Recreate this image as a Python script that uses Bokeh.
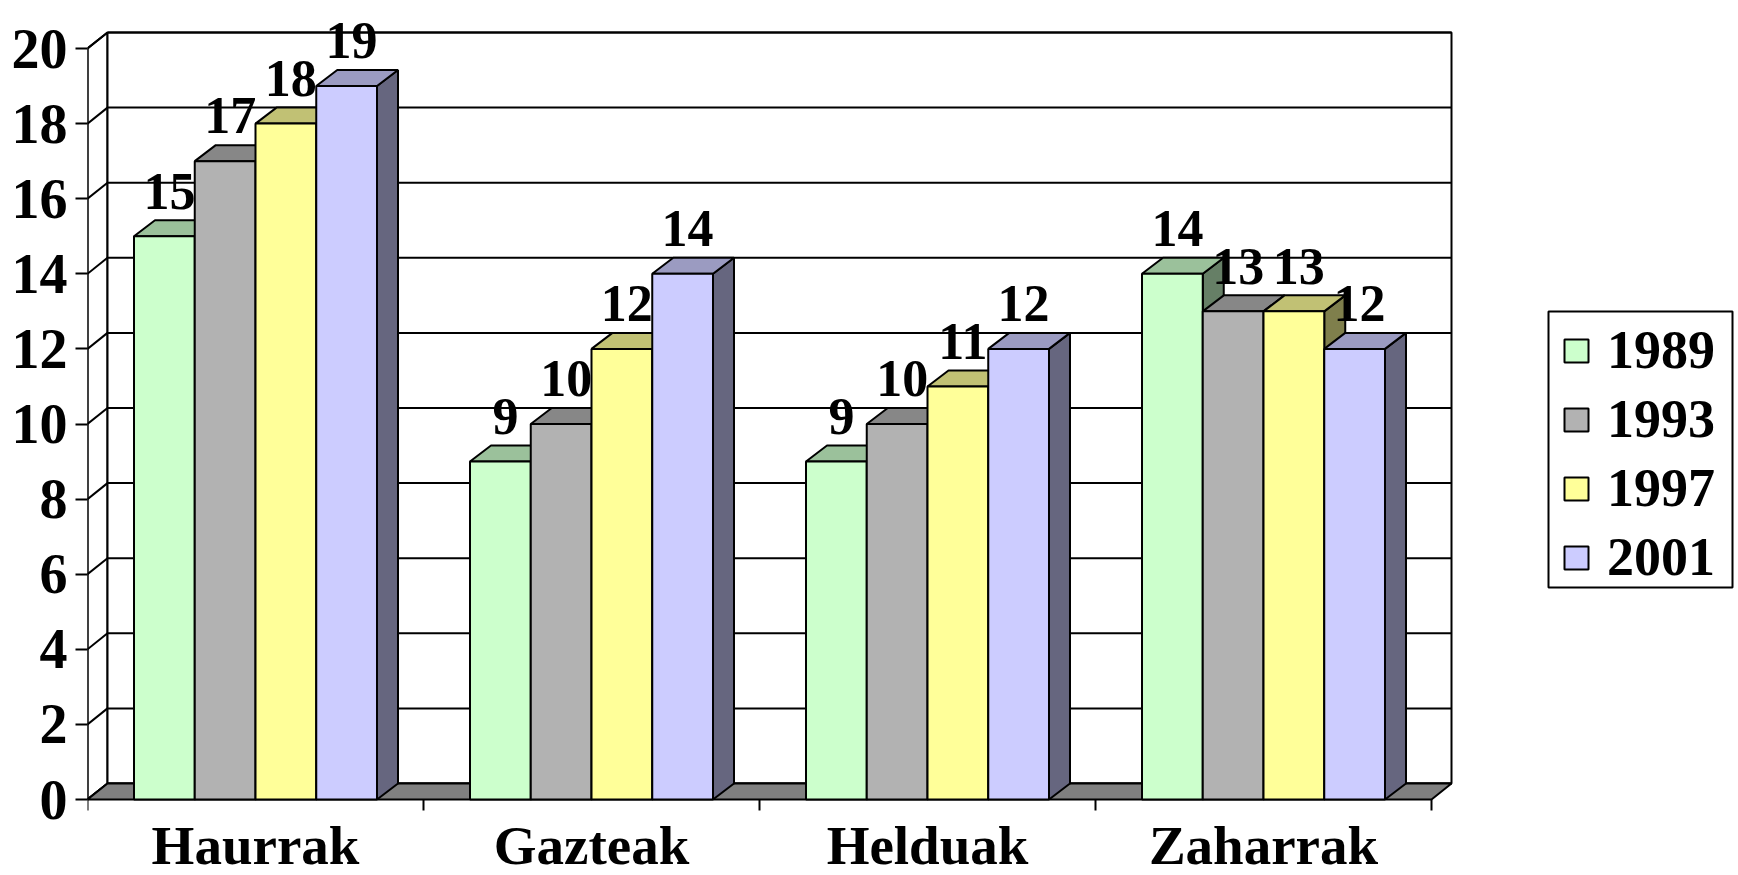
from bokeh.plotting import figure
from bokeh.models import Range1d, FixedTicker, Legend, LegendItem, ColumnDataSource
from bokeh.core.properties import value
from bokeh.embed import file_html
from bokeh.resources import INLINE

# ---------------- data ----------------
categories = ["Haurrak", "Gazteak", "Helduak", "Zaharrak"]
years = ["1989", "1993", "1997", "2001"]
v1989 = [15, 9, 9, 14]
v1993 = [17, 10, 10, 13]
v1997 = [18, 12, 11, 13]
v2001 = [19, 14, 12, 12]
y_ticks = [0, 2, 4, 6, 8, 10, 12, 14, 16, 18, 20]

series = [v1989, v1993, v1997, v2001]
front_colors = ["#CCFFCC", "#B2B2B2", "#FFFF99", "#CCCCFF"]

# ---------------- geometry / style ----------------
W, H = 1738, 875
LEFT = 87                 # frame left border (px)
FLOOR_PX = 799            # floor (value 0) from top of figure (px)
CAT_PX = 336.0            # px per category
UNIT_PX = 37.55           # px per value unit
FW = W - LEFT
WDX, WDY = 20 / CAT_PX, 16 / UNIT_PX     # wall depth
BDX, BDY = 21 / CAT_PX, 16 / UNIT_PX     # bar depth
GROUP_W = 0.7232
BAR_W = GROUP_W / len(series)
G0 = (1 - GROUP_W) / 2
YMAX = y_ticks[-1]
NCAT = len(categories)
FONT = value("Liberation Serif")
BASE_FIX = 0.33           # svg alphabetic-baseline correction (fraction of font size)
VAL_FS, CAT_FS = 52, 55


def shade(hexc, f):
    r, g, b = (int(hexc[i:i + 2], 16) for i in (1, 3, 5))
    return "#%02x%02x%02x" % (int(r * f), int(g * f), int(b * f))


def sx(px):   # screen x (px) -> data x
    return (px - LEFT) / CAT_PX


def sy(py):   # screen y (px from top) -> data y
    return (FLOOR_PX - py) / UNIT_PX


p = figure(width=W, height=H, output_backend="svg", toolbar_location=None,
           x_range=Range1d(0, FW / CAT_PX),
           y_range=Range1d(-(H - FLOOR_PX) / UNIT_PX, FLOOR_PX / UNIT_PX),
           x_axis_location=None, y_axis_location="left",
           min_border_left=LEFT, min_border_right=0, min_border_top=0, min_border_bottom=0)
p.grid.visible = False
p.outline_line_color = None
p.background_fill_color = "white"
p.border_fill_color = "white"

ax = p.yaxis[0]
ax.ticker = FixedTicker(ticks=y_ticks, minor_ticks=[])
ax.axis_line_color = None
ax.major_tick_out = 12
ax.major_tick_in = 0
ax.minor_tick_out = 0
ax.minor_tick_in = 0
ax.major_tick_line_width = 2
ax.major_tick_line_color = "black"
ax.major_label_standoff = 8
ax.major_label_text_font = "Liberation Serif"
ax.major_label_text_font_style = "bold"
ax.major_label_text_font_size = "56px"
ax.major_label_text_color = "black"

LW = 2
# side wall
p.patch([0, 0, WDX, WDX], [0, YMAX, YMAX + WDY, WDY], fill_color="white",
        line_color="black", line_width=LW)
# back wall
p.quad(left=WDX, right=NCAT + WDX, bottom=WDY, top=YMAX + WDY,
       fill_color="white", line_color="black", line_width=LW)
# gridlines
p.segment(x0=[WDX] * len(y_ticks), x1=[NCAT + WDX] * len(y_ticks),
          y0=[t + WDY for t in y_ticks], y1=[t + WDY for t in y_ticks],
          line_color="black", line_width=LW)
p.segment(x0=[0] * len(y_ticks), x1=[WDX] * len(y_ticks),
          y0=y_ticks, y1=[t + WDY for t in y_ticks],
          line_color="black", line_width=LW)
# floor
p.patch([0, NCAT, NCAT + WDX, WDX], [0, 0, WDY, WDY], fill_color="#808080",
        line_color="black", line_width=LW)
# front axis line
p.segment(x0=[0], x1=[0], y0=[0], y1=[YMAX], line_color="black", line_width=LW)
# category tick marks
TICK = 11 / UNIT_PX
p.segment(x0=list(range(NCAT + 1)), x1=list(range(NCAT + 1)),
          y0=[0] * (NCAT + 1), y1=[-TICK] * (NCAT + 1), line_color="black", line_width=LW)

# bars
front_renderers = []
label_x, label_y, label_t = [], [], []
for s, (vals, col) in enumerate(zip(series, front_colors)):
    lefts = [i + G0 + s * BAR_W for i in range(NCAT)]
    rights = [l + BAR_W for l in lefts]
    side_xs = [[r, r, r + BDX, r + BDX] for r in rights]
    side_ys = [[0, v, v + BDY, BDY] for v in vals]
    p.patches(side_xs, side_ys, fill_color=shade(col, 0.5), line_color="black", line_width=LW)
    top_xs = [[l, r, r + BDX, l + BDX] for l, r in zip(lefts, rights)]
    top_ys = [[v, v, v + BDY, v + BDY] for v in vals]
    p.patches(top_xs, top_ys, fill_color=shade(col, 0.76), line_color="black", line_width=LW)
    src = ColumnDataSource(dict(left=lefts, right=rights, top=vals, bottom=[0] * NCAT))
    r = p.quad(left="left", right="right", top="top", bottom="bottom", source=src,
               fill_color=col, line_color="black", line_width=LW)
    front_renderers.append(r)
    for l, v in zip(lefts, vals):
        label_x.append(l + BAR_W / 2 + 5 / CAT_PX)
        label_y.append(v + BDY + (12 + BASE_FIX * VAL_FS) / UNIT_PX)
        label_t.append(str(v))

p.text(x=label_x, y=label_y, text=label_t, text_font=FONT, text_font_style="bold",
       text_font_size=f"{VAL_FS}px", text_align="center", text_baseline="alphabetic",
       text_color="black")

# category labels (baseline 64 px below the floor edge)
p.text(x=[i + 0.5 for i in range(NCAT)], y=[-(64 - BASE_FIX * CAT_FS) / UNIT_PX] * NCAT,
       text=categories, text_font=FONT, text_font_style="bold",
       text_font_size=f"{CAT_FS}px", text_align="center", text_baseline="alphabetic",
       text_color="black")

# legend frame (box), then the legend itself
p.quad(left=sx(1548), right=sx(1732), top=sy(311), bottom=sy(587),
       fill_color="white", line_color="black", line_width=LW)
legend = Legend(items=[LegendItem(label=y, renderers=[r]) for y, r in zip(years, front_renderers)],
                location=(1474, 287), orientation="vertical",
                border_line_color=None, background_fill_alpha=0.0,
                glyph_width=30, glyph_height=29, label_standoff=16,
                padding=3, spacing=7, margin=0,
                label_text_font="Liberation Serif", label_text_font_style="bold",
                label_text_font_size="54px", label_text_color="black")
p.add_layout(legend)

open("out.html", "w").write(file_html(p, INLINE))
